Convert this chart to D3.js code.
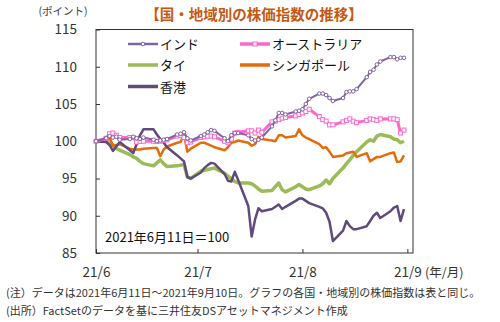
<!DOCTYPE html>
<html>
<head>
<meta charset="utf-8">
<script src="https://cdn.jsdelivr.net/npm/d3@7"></script>
<style>
  body { margin: 0; background: #fff; }
  svg { display: block; font-family: "Noto Sans CJK JP", "Noto Sans", sans-serif; }
</style>
</head>
<body>
<div id="app"></div>
<script>
// trading days, 2021
const dates = [
  "6/11","6/14","6/15","6/16","6/17","6/18","6/21","6/22","6/23","6/24","6/25","6/28","6/29","6/30",
  "7/1","7/2","7/5","7/6","7/7","7/8","7/9","7/12","7/13","7/14","7/15","7/16","7/19","7/20","7/21","7/22","7/23",
  "7/26","7/27","7/28","7/29","7/30",
  "8/2","8/3","8/4","8/5","8/6","8/9","8/10","8/11","8/12","8/13","8/16","8/17","8/18","8/19","8/20",
  "8/23","8/24","8/25","8/26","8/27","8/30","8/31",
  "9/1","9/2","9/3","9/6","9/7","9/8","9/9","9/10"
]

const india = [
  100, 100.4, 100.7, 100.5, 100.6, 100.2, 100.3, 100.6, 100.4, 100.3, 100.5, 100.2, 100.0, 100.1,
  100.2, 100.3, 100.9, 101.0, 101.2, 100.4, 100.1, 100.7, 100.9, 101.2, 101.5, 101.4, 100.4, 100.0, 100.8, 101.1, 101.1,
  100.8, 100.3, 100.1, 100.2, 100.5,
  102.0, 102.8, 103.8, 103.8, 103.6, 104.0, 104.1, 104.3, 105.0, 105.7, 106.4, 106.4, 106.2, 105.8, 105.4,
  105.8, 106.6, 106.7, 106.7, 107.0, 108.6, 109.3,
  109.6, 110.3, 110.7, 111.3, 111.3, 111.0, 111.2, 111.2
]
const australia = [
  100, 100.4, 101.0, 101.1, 100.8, 100.5, 100.5, 100.5, 99.9, 100.0, 100.0, 100.0, 100.0, 100.0,
  100.1, 100.2, 100.7, 100.8, 100.5, 99.8, 99.9, 100.5, 100.6, 100.7, 100.7, 100.6, 100.0, 99.8, 100.3, 101.1, 101.2,
  101.4, 101.4, 101.1, 101.5, 101.2,
  102.6, 102.7, 102.9, 103.1, 103.2, 103.4, 103.6, 103.8, 104.0, 104.3, 103.3, 102.9, 102.7, 102.2, 102.2,
  102.6, 102.8, 103.0, 102.7, 102.5, 102.8, 103.0,
  102.9, 102.8, 103.0, 103.0, 103.0, 102.9, 101.1, 101.5
]
const thailand = [
  100, 100.0, 99.8, 99.5, 99.0, 98.8, 98.2, 97.9, 97.7, 97.3, 97.0, 96.7, 97.1, 97.5,
  97.0, 96.6, 96.7, 96.8, 96.9, 95.2, 95.0, 96.0, 96.1, 96.2, 96.3, 96.4, 95.7, 95.3, 95.0, 94.6, 94.4,
  94.4, 94.3, 94.0, 93.6, 93.3,
  93.4, 93.9, 94.4, 93.5, 93.2, 93.9, 94.2, 93.9, 93.6, 93.5, 94.0, 94.3, 94.8, 94.3, 95.0,
  96.4, 97.0, 97.5, 98.1, 98.6, 99.9, 100.2,
  100.0, 100.7, 100.9, 100.6, 100.3, 100.2, 99.8, 100.0
]
const singapore = [
  100, 100.1, 100.5, 99.4, 99.5, 99.6, 99.0, 98.9, 98.9, 98.9, 99.0, 99.1, 99.1, 98.0,
  98.9, 99.3, 99.8, 99.9, 100.9, 98.6, 99.0, 99.8, 99.8, 99.6, 99.4, 99.2, 98.8, 99.2, 99.8, 99.9, 100.1,
  99.8, 99.4, 99.6, 100.6, 100.3,
  100.1, 100.0, 100.8, 100.8, 100.5, 100.7, 101.6, 100.8, 100.5, 100.3, 99.6, 99.1, 99.2, 98.6, 97.9,
  98.1, 98.4, 98.5, 98.6, 97.9, 98.4, 97.3,
  97.6, 97.9, 97.9, 98.4, 98.5, 97.2, 97.3, 98.1
]
const hongkong = [
  100, 99.9, 99.5, 98.7, 99.3, 99.9, 98.8, 98.4, 99.6, 100.8, 101.6, 101.6, 100.9, 100.3,
  99.8, 99.2, 98.1, 97.7, 97.3, 95.2, 95.0, 95.8, 96.4, 96.8, 97.1, 97.0, 95.6, 94.7, 94.6, 95.9, 94.8,
  91.3, 87.2, 89.5, 91.0, 90.6,
  90.9, 91.2, 91.5, 90.9, 91.2, 92.0, 92.3, 92.3, 92.0, 91.7, 91.2, 91.0, 90.4, 89.2, 86.6,
  88.0, 89.3, 88.6, 88.2, 88.2, 88.6, 89.3,
  90.0, 90.4, 89.7, 90.6, 91.1, 91.3, 89.3, 90.9
]

const yTicks = [85, 90, 95, 100, 105, 110, 115]
const xTickDates = ["6/11", "7/11", "8/11", "9/11"]
const xTickLabels = ["21/6", "21/7", "21/8", "21/9"]

const series = [
  {name: "タイ", values: thailand, color: "#9bbb59", width: 3.5},
  {name: "シンガポール", values: singapore, color: "#e46c0a", width: 2.5},
  {name: "香港", values: hongkong, color: "#604a7b", width: 2.5},
  {name: "オーストラリア", values: australia, color: "#ff66cc", width: 3, marker: "square"},
  {name: "インド", values: india, color: "#8064a2", width: 2, marker: "circle"}
]

const parse = s => d3.timeParse("%Y/%m/%d")("2021/" + s)
const days = dates.map(parse)

let width = 500
let height = 322
let plot = {left: 96, right: 413, top: 29.5, bottom: 253}

let svg = d3.select("#app").append("svg")
    .attr("width", width)
    .attr("height", height)

let x = d3.scaleTime()
    .domain([new Date(2021, 5, 11), new Date(2021, 8, 12, 16)])
    .range([plot.left, plot.right])
let y = d3.scaleLinear()
    .domain([85, 115])
    .range([plot.bottom, plot.top])

// title + unit
svg.append("text")
    .attr("x", 254).attr("y", 20)
    .attr("text-anchor", "middle")
    .attr("font-size", 14.5)
    .attr("font-weight", "bold")
    .attr("fill", "#c65911")
    .text("【国・地域別の株価指数の推移】")
svg.append("text")
    .attr("x", 63).attr("y", 15)
    .attr("text-anchor", "middle")
    .attr("font-size", 10.5)
    .attr("fill", "#404040")
    .text("(ポイント)")

// axes (ticks point into the plot)
let yAxis = svg.append("g")
    .attr("transform", `translate(${plot.left},0)`)
    .call(d3.axisLeft(y).tickValues(yTicks).tickSizeInner(-4).tickSizeOuter(0).tickPadding(19))
yAxis.select(".domain").remove()
yAxis.selectAll("line").attr("stroke", "#333")
yAxis.selectAll("text")
    .attr("font-size", 13.5)
    .attr("fill", "#333")
    .attr("font-family", "'Noto Sans CJK JP', sans-serif")

let xAxis = svg.append("g")
    .attr("transform", `translate(0,${plot.bottom})`)
    .call(d3.axisBottom(x)
        .tickValues(xTickDates.map(parse))
        .tickFormat((d, i) => xTickLabels[i])
        .tickSizeInner(-4).tickSizeOuter(0).tickPadding(14))
xAxis.select(".domain").remove()
xAxis.selectAll("line").attr("stroke", "#333")
xAxis.selectAll("text")
    .attr("font-size", 13.5)
    .attr("fill", "#333")
    .attr("font-family", "'Noto Sans CJK JP', sans-serif")
svg.append("text")
    .attr("x", 425).attr("y", 277)
    .attr("font-size", 12.5)
    .attr("fill", "#333")
    .text("(年/月)")

svg.append("rect")
    .attr("x", plot.left).attr("y", plot.top)
    .attr("width", plot.right - plot.left)
    .attr("height", plot.bottom - plot.top)
    .attr("fill", "none")
    .attr("stroke", "#333")
    .attr("stroke-width", 1)

// series
let line = d3.line()
    .x((d, i) => x(days[i]))
    .y(d => y(d))

series.forEach(s => {
    svg.append("path")
        .datum(s.values)
        .attr("fill", "none")
        .attr("stroke", s.color)
        .attr("stroke-width", s.width)
        .attr("stroke-linejoin", "round")
        .attr("d", line)
    if (s.marker === "circle") {
        svg.append("g").selectAll("circle")
            .data(s.values).enter().append("circle")
            .attr("cx", (d, i) => x(days[i]))
            .attr("cy", d => y(d))
            .attr("r", 1.8)
            .attr("fill", "#fff")
            .attr("stroke", s.color)
            .attr("stroke-width", 1)
    } else if (s.marker === "square") {
        svg.append("g").selectAll("rect")
            .data(s.values).enter().append("rect")
            .attr("x", (d, i) => x(days[i]) - 2)
            .attr("y", d => y(d) - 2)
            .attr("width", 4).attr("height", 4)
            .attr("fill", "#fff")
            .attr("stroke", s.color)
            .attr("stroke-width", 1)
    }
})

// legend
let legendPos = [
    {key: "インド", x: 128, y: 44},
    {key: "オーストラリア", x: 240, y: 44},
    {key: "タイ", x: 128, y: 65},
    {key: "シンガポール", x: 240, y: 65},
    {key: "香港", x: 128, y: 86.5}
]
let legend = svg.append("g")
legendPos.forEach(p => {
    let s = series.find(d => d.name === p.key)
    let g = legend.append("g").attr("transform", `translate(${p.x},${p.y})`)
    g.append("line")
        .attr("x1", 0).attr("x2", 30)
        .attr("stroke", s.color)
        .attr("stroke-width", s.name === "インド" ? 2.5 : 3.5)
    if (s.marker === "circle") {
        g.append("circle").attr("cx", 15).attr("r", 1.8)
            .attr("fill", "#fff").attr("stroke", s.color)
    } else if (s.marker === "square") {
        g.append("rect").attr("x", 13).attr("y", -2).attr("width", 4).attr("height", 4)
            .attr("fill", "#fff").attr("stroke", s.color)
    }
    g.append("text")
        .attr("x", 32).attr("y", 5)
        .attr("font-size", 13)
        .attr("fill", "#111")
        .text(s.name)
})

svg.append("text")
    .attr("x", 105).attr("y", 242)
    .attr("font-size", 13)
    .attr("fill", "#111")
    .text("2021年6月11日＝100")

// notes
svg.append("text")
    .attr("x", 6).attr("y", 297)
    .attr("font-size", 11)
    .attr("fill", "#333")
    .text("(注）データは2021年6月11日～2021年9月10日。グラフの各国・地域別の株価指数は表と同じ。")
svg.append("text")
    .attr("x", 6).attr("y", 315)
    .attr("font-size", 11)
    .attr("fill", "#333")
    .text("(出所）FactSetのデータを基に三井住友DSアセットマネジメント作成")
</script>
</body>
</html>
